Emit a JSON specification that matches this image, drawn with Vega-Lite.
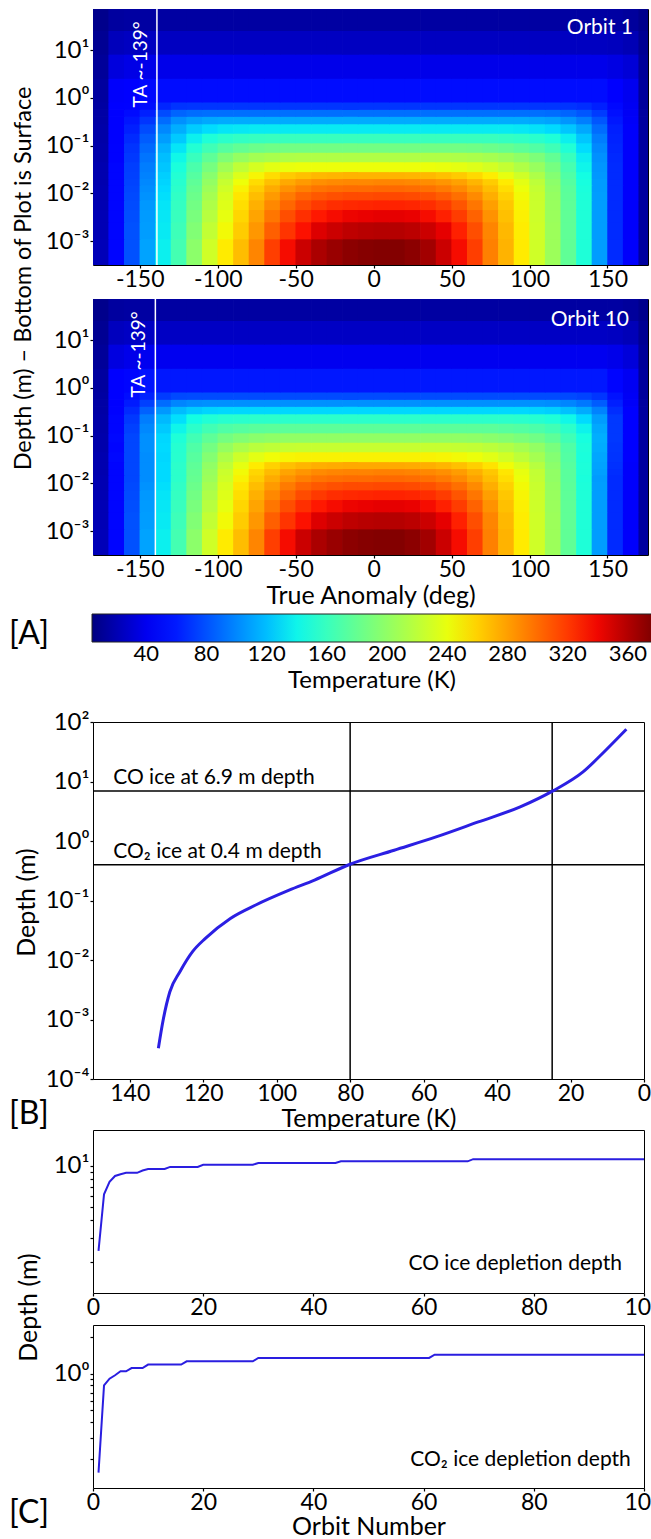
{
"$schema":"https://vega.github.io/schema/vega-lite/v6.json",
"padding":{"left":8,"top":7,"right":5,"bottom":5},
"config":{
 "font":"Lato, Noto Sans, DejaVu Sans",
 "view":{"stroke":"black","strokeWidth":1},
 "axis":{"labelFont":"Lato, Noto Sans, DejaVu Sans","labelFontSize":23,"labelColor":"black","titleFont":"Lato, Noto Sans, DejaVu Sans","titleFontSize":25,"titleFontWeight":"normal","titleColor":"black","domain":false,"tickColor":"black","tickSize":3,"tickWidth":1.2,"labelPadding":0,"titlePadding":0,"grid":false,"labelFlush":false,"labelOverlap":false},
 "axisY":{"labelFontSize":24,"labelPadding":1},
 "title":{"font":"Lato, Noto Sans, DejaVu Sans","fontSize":32,"fontWeight":"normal","color":"black"}
},
"datasets":{
"layers":[{"d":0.00032,"d2":0.0011},{"d":0.0011,"d2":0.0025},{"d":0.0025,"d2":0.0045},{"d":0.0045,"d2":0.0072},{"d":0.0072,"d2":0.0107},{"d":0.0107,"d2":0.0148},{"d":0.0148,"d2":0.02},{"d":0.02,"d2":0.028},{"d":0.028,"d2":0.045},{"d":0.045,"d2":0.071},{"d":0.071,"d2":0.112},{"d":0.112,"d2":0.178},{"d":0.178,"d2":0.28},{"d":0.28,"d2":0.4},{"d":0.4,"d2":0.56},{"d":0.56,"d2":0.8},{"d":0.8,"d2":2.5},{"d":2.5,"d2":8},{"d":8,"d2":25},{"d":25,"d2":72}],
"cells":[
{"a":-175,"d":0.00032,"p":22,"q":22},{"a":-165,"d":0.00032,"p":52,"q":52},{"a":-155,"d":0.00032,"p":80,"q":80},{"a":-145,"d":0.00032,"p":110,"q":110},{"a":-135,"d":0.00032,"p":138,"q":138},{"a":-125,"d":0.00032,"p":165,"q":165},{"a":-115,"d":0.00032,"p":198,"q":198},{"a":-105,"d":0.00032,"p":228,"q":228},{"a":-95,"d":0.00032,"p":250,"q":250},{"a":-85,"d":0.00032,"p":268,"q":268},{"a":-75,"d":0.00032,"p":290,"q":290},{"a":-65,"d":0.00032,"p":318,"q":318},{"a":-55,"d":0.00032,"p":338,"q":338},{"a":-45,"d":0.00032,"p":352,"q":352},{"a":-35,"d":0.00032,"p":362,"q":362},{"a":-25,"d":0.00032,"p":368,"q":368},{"a":-15,"d":0.00032,"p":372,"q":372},{"a":-5,"d":0.00032,"p":374,"q":374},{"a":5,"d":0.00032,"p":375,"q":375},{"a":15,"d":0.00032,"p":375,"q":375},{"a":25,"d":0.00032,"p":372,"q":372},{"a":35,"d":0.00032,"p":365,"q":365},{"a":45,"d":0.00032,"p":352,"q":352},{"a":55,"d":0.00032,"p":338,"q":338},{"a":65,"d":0.00032,"p":318,"q":318},{"a":75,"d":0.00032,"p":292,"q":292},{"a":85,"d":0.00032,"p":272,"q":272},{"a":95,"d":0.00032,"p":250,"q":250},{"a":105,"d":0.00032,"p":228,"q":228},{"a":115,"d":0.00032,"p":205,"q":205},{"a":125,"d":0.00032,"p":178,"q":178},{"a":135,"d":0.00032,"p":148,"q":148},{"a":145,"d":0.00032,"p":108,"q":108},{"a":155,"d":0.00032,"p":66,"q":66},{"a":165,"d":0.00032,"p":44,"q":44},{"a":175,"d":0.00032,"p":14,"q":14},
{"a":-175,"d":0.0011,"p":21,"q":21},{"a":-165,"d":0.0011,"p":52,"q":52},{"a":-155,"d":0.0011,"p":80,"q":80},{"a":-145,"d":0.0011,"p":108,"q":108},{"a":-135,"d":0.0011,"p":136,"q":136},{"a":-125,"d":0.0011,"p":162,"q":162},{"a":-115,"d":0.0011,"p":193,"q":193},{"a":-105,"d":0.0011,"p":222,"q":222},{"a":-95,"d":0.0011,"p":244,"q":244},{"a":-85,"d":0.0011,"p":262,"q":262},{"a":-75,"d":0.0011,"p":283,"q":283},{"a":-65,"d":0.0011,"p":305,"q":305},{"a":-55,"d":0.0011,"p":322,"q":322},{"a":-45,"d":0.0011,"p":336,"q":336},{"a":-35,"d":0.0011,"p":346,"q":346},{"a":-25,"d":0.0011,"p":352,"q":352},{"a":-15,"d":0.0011,"p":356,"q":356},{"a":-5,"d":0.0011,"p":358,"q":358},{"a":5,"d":0.0011,"p":359,"q":359},{"a":15,"d":0.0011,"p":359,"q":359},{"a":25,"d":0.0011,"p":357,"q":357},{"a":35,"d":0.0011,"p":352,"q":352},{"a":45,"d":0.0011,"p":343,"q":343},{"a":55,"d":0.0011,"p":330,"q":330},{"a":65,"d":0.0011,"p":312,"q":312},{"a":75,"d":0.0011,"p":290,"q":290},{"a":85,"d":0.0011,"p":270,"q":270},{"a":95,"d":0.0011,"p":249,"q":249},{"a":105,"d":0.0011,"p":228,"q":228},{"a":115,"d":0.0011,"p":205,"q":205},{"a":125,"d":0.0011,"p":178,"q":178},{"a":135,"d":0.0011,"p":148,"q":148},{"a":145,"d":0.0011,"p":108,"q":108},{"a":155,"d":0.0011,"p":66,"q":66},{"a":165,"d":0.0011,"p":44,"q":44},{"a":175,"d":0.0011,"p":14,"q":14},
{"a":-175,"d":0.0025,"p":21,"q":21},{"a":-165,"d":0.0025,"p":52,"q":52},{"a":-155,"d":0.0025,"p":79,"q":79},{"a":-145,"d":0.0025,"p":107,"q":107},{"a":-135,"d":0.0025,"p":135,"q":135},{"a":-125,"d":0.0025,"p":160,"q":160},{"a":-115,"d":0.0025,"p":189,"q":189},{"a":-105,"d":0.0025,"p":217,"q":217},{"a":-95,"d":0.0025,"p":239,"q":239},{"a":-85,"d":0.0025,"p":258,"q":258},{"a":-75,"d":0.0025,"p":278,"q":278},{"a":-65,"d":0.0025,"p":296,"q":296},{"a":-55,"d":0.0025,"p":312,"q":312},{"a":-45,"d":0.0025,"p":324,"q":324},{"a":-35,"d":0.0025,"p":333,"q":333},{"a":-25,"d":0.0025,"p":338,"q":338},{"a":-15,"d":0.0025,"p":341,"q":341},{"a":-5,"d":0.0025,"p":342,"q":342},{"a":5,"d":0.0025,"p":343,"q":343},{"a":15,"d":0.0025,"p":343,"q":343},{"a":25,"d":0.0025,"p":342,"q":342},{"a":35,"d":0.0025,"p":338,"q":338},{"a":45,"d":0.0025,"p":330,"q":330},{"a":55,"d":0.0025,"p":319,"q":319},{"a":65,"d":0.0025,"p":304,"q":304},{"a":75,"d":0.0025,"p":285,"q":285},{"a":85,"d":0.0025,"p":267,"q":267},{"a":95,"d":0.0025,"p":248,"q":248},{"a":105,"d":0.0025,"p":227,"q":227},{"a":115,"d":0.0025,"p":204,"q":204},{"a":125,"d":0.0025,"p":178,"q":178},{"a":135,"d":0.0025,"p":148,"q":148},{"a":145,"d":0.0025,"p":108,"q":108},{"a":155,"d":0.0025,"p":66,"q":66},{"a":165,"d":0.0025,"p":44,"q":44},{"a":175,"d":0.0025,"p":14,"q":14},
{"a":-175,"d":0.0045,"p":20,"q":20},{"a":-165,"d":0.0045,"p":52,"q":52},{"a":-155,"d":0.0045,"p":78,"q":78},{"a":-145,"d":0.0045,"p":106,"q":106},{"a":-135,"d":0.0045,"p":134,"q":134},{"a":-125,"d":0.0045,"p":158,"q":158},{"a":-115,"d":0.0045,"p":186,"q":186},{"a":-105,"d":0.0045,"p":213,"q":213},{"a":-95,"d":0.0045,"p":235,"q":235},{"a":-85,"d":0.0045,"p":255,"q":255},{"a":-75,"d":0.0045,"p":273,"q":273},{"a":-65,"d":0.0045,"p":289,"q":289},{"a":-55,"d":0.0045,"p":302,"q":302},{"a":-45,"d":0.0045,"p":313,"q":313},{"a":-35,"d":0.0045,"p":320,"q":320},{"a":-25,"d":0.0045,"p":325,"q":325},{"a":-15,"d":0.0045,"p":327,"q":327},{"a":-5,"d":0.0045,"p":328,"q":328},{"a":5,"d":0.0045,"p":329,"q":329},{"a":15,"d":0.0045,"p":329,"q":329},{"a":25,"d":0.0045,"p":328,"q":328},{"a":35,"d":0.0045,"p":325,"q":325},{"a":45,"d":0.0045,"p":319,"q":319},{"a":55,"d":0.0045,"p":309,"q":309},{"a":65,"d":0.0045,"p":296,"q":296},{"a":75,"d":0.0045,"p":280,"q":280},{"a":85,"d":0.0045,"p":264,"q":264},{"a":95,"d":0.0045,"p":246,"q":246},{"a":105,"d":0.0045,"p":226,"q":226},{"a":115,"d":0.0045,"p":203,"q":203},{"a":125,"d":0.0045,"p":177,"q":177},{"a":135,"d":0.0045,"p":148,"q":148},{"a":145,"d":0.0045,"p":108,"q":108},{"a":155,"d":0.0045,"p":66,"q":66},{"a":165,"d":0.0045,"p":44,"q":44},{"a":175,"d":0.0045,"p":14,"q":14},
{"a":-175,"d":0.0072,"p":20,"q":20},{"a":-165,"d":0.0072,"p":52,"q":52},{"a":-155,"d":0.0072,"p":77,"q":77},{"a":-145,"d":0.0072,"p":104,"q":104},{"a":-135,"d":0.0072,"p":132,"q":132},{"a":-125,"d":0.0072,"p":156,"q":156},{"a":-115,"d":0.0072,"p":183,"q":183},{"a":-105,"d":0.0072,"p":209,"q":209},{"a":-95,"d":0.0072,"p":232,"q":232},{"a":-85,"d":0.0072,"p":252,"q":252},{"a":-75,"d":0.0072,"p":268,"q":268},{"a":-65,"d":0.0072,"p":282,"q":282},{"a":-55,"d":0.0072,"p":294,"q":294},{"a":-45,"d":0.0072,"p":303,"q":303},{"a":-35,"d":0.0072,"p":308,"q":308},{"a":-25,"d":0.0072,"p":311,"q":311},{"a":-15,"d":0.0072,"p":313,"q":313},{"a":-5,"d":0.0072,"p":313,"q":313},{"a":5,"d":0.0072,"p":314,"q":314},{"a":15,"d":0.0072,"p":314,"q":314},{"a":25,"d":0.0072,"p":313,"q":313},{"a":35,"d":0.0072,"p":311,"q":311},{"a":45,"d":0.0072,"p":306,"q":306},{"a":55,"d":0.0072,"p":299,"q":299},{"a":65,"d":0.0072,"p":288,"q":288},{"a":75,"d":0.0072,"p":274,"q":274},{"a":85,"d":0.0072,"p":260,"q":260},{"a":95,"d":0.0072,"p":244,"q":244},{"a":105,"d":0.0072,"p":225,"q":225},{"a":115,"d":0.0072,"p":202,"q":202},{"a":125,"d":0.0072,"p":176,"q":176},{"a":135,"d":0.0072,"p":147,"q":147},{"a":145,"d":0.0072,"p":108,"q":108},{"a":155,"d":0.0072,"p":66,"q":66},{"a":165,"d":0.0072,"p":44,"q":44},{"a":175,"d":0.0072,"p":14,"q":14},
{"a":-175,"d":0.0107,"p":20,"q":20},{"a":-165,"d":0.0107,"p":52,"q":52},{"a":-155,"d":0.0107,"p":76,"q":76},{"a":-145,"d":0.0107,"p":102,"q":102},{"a":-135,"d":0.0107,"p":130,"q":130},{"a":-125,"d":0.0107,"p":154,"q":154},{"a":-115,"d":0.0107,"p":180,"q":180},{"a":-105,"d":0.0107,"p":205,"q":205},{"a":-95,"d":0.0107,"p":228,"q":228},{"a":-85,"d":0.0107,"p":247,"q":247},{"a":-75,"d":0.0107,"p":262,"q":262},{"a":-65,"d":0.0107,"p":275,"q":275},{"a":-55,"d":0.0107,"p":285,"q":285},{"a":-45,"d":0.0107,"p":292,"q":292},{"a":-35,"d":0.0107,"p":297,"q":297},{"a":-25,"d":0.0107,"p":299,"q":299},{"a":-15,"d":0.0107,"p":300,"q":300},{"a":-5,"d":0.0107,"p":300,"q":300},{"a":5,"d":0.0107,"p":301,"q":301},{"a":15,"d":0.0107,"p":301,"q":301},{"a":25,"d":0.0107,"p":300,"q":300},{"a":35,"d":0.0107,"p":298,"q":298},{"a":45,"d":0.0107,"p":294,"q":294},{"a":55,"d":0.0107,"p":288,"q":288},{"a":65,"d":0.0107,"p":279,"q":279},{"a":75,"d":0.0107,"p":268,"q":268},{"a":85,"d":0.0107,"p":255,"q":255},{"a":95,"d":0.0107,"p":241,"q":241},{"a":105,"d":0.0107,"p":223,"q":223},{"a":115,"d":0.0107,"p":200,"q":200},{"a":125,"d":0.0107,"p":175,"q":175},{"a":135,"d":0.0107,"p":146,"q":146},{"a":145,"d":0.0107,"p":107,"q":107},{"a":155,"d":0.0107,"p":66,"q":66},{"a":165,"d":0.0107,"p":44,"q":44},{"a":175,"d":0.0107,"p":14,"q":14},
{"a":-175,"d":0.0148,"p":19,"q":19},{"a":-165,"d":0.0148,"p":52,"q":52},{"a":-155,"d":0.0148,"p":75,"q":76},{"a":-145,"d":0.0148,"p":100,"q":102},{"a":-135,"d":0.0148,"p":128,"q":130},{"a":-125,"d":0.0148,"p":152,"q":154},{"a":-115,"d":0.0148,"p":177,"q":179},{"a":-105,"d":0.0148,"p":201,"q":203},{"a":-95,"d":0.0148,"p":224,"q":226},{"a":-85,"d":0.0148,"p":242,"q":244},{"a":-75,"d":0.0148,"p":256,"q":258},{"a":-65,"d":0.0148,"p":267,"q":269},{"a":-55,"d":0.0148,"p":276,"q":278},{"a":-45,"d":0.0148,"p":282,"q":284},{"a":-35,"d":0.0148,"p":286,"q":288},{"a":-25,"d":0.0148,"p":288,"q":290},{"a":-15,"d":0.0148,"p":289,"q":291},{"a":-5,"d":0.0148,"p":289,"q":291},{"a":5,"d":0.0148,"p":290,"q":292},{"a":15,"d":0.0148,"p":290,"q":292},{"a":25,"d":0.0148,"p":289,"q":291},{"a":35,"d":0.0148,"p":287,"q":289},{"a":45,"d":0.0148,"p":284,"q":286},{"a":55,"d":0.0148,"p":279,"q":281},{"a":65,"d":0.0148,"p":271,"q":273},{"a":75,"d":0.0148,"p":262,"q":264},{"a":85,"d":0.0148,"p":250,"q":252},{"a":95,"d":0.0148,"p":237,"q":239},{"a":105,"d":0.0148,"p":220,"q":222},{"a":115,"d":0.0148,"p":198,"q":200},{"a":125,"d":0.0148,"p":173,"q":175},{"a":135,"d":0.0148,"p":145,"q":147},{"a":145,"d":0.0148,"p":107,"q":109},{"a":155,"d":0.0148,"p":66,"q":67},{"a":165,"d":0.0148,"p":44,"q":44},{"a":175,"d":0.0148,"p":14,"q":14},
{"a":-175,"d":0.02,"p":19,"q":19},{"a":-165,"d":0.02,"p":52,"q":52},{"a":-155,"d":0.02,"p":74,"q":76},{"a":-145,"d":0.02,"p":98,"q":102},{"a":-135,"d":0.02,"p":126,"q":130},{"a":-125,"d":0.02,"p":150,"q":154},{"a":-115,"d":0.02,"p":173,"q":177},{"a":-105,"d":0.02,"p":196,"q":200},{"a":-95,"d":0.02,"p":217,"q":221},{"a":-85,"d":0.02,"p":234,"q":238},{"a":-75,"d":0.02,"p":246,"q":250},{"a":-65,"d":0.02,"p":256,"q":260},{"a":-55,"d":0.02,"p":263,"q":267},{"a":-45,"d":0.02,"p":267,"q":271},{"a":-35,"d":0.02,"p":270,"q":274},{"a":-25,"d":0.02,"p":271,"q":275},{"a":-15,"d":0.02,"p":272,"q":276},{"a":-5,"d":0.02,"p":272,"q":276},{"a":5,"d":0.02,"p":272,"q":276},{"a":15,"d":0.02,"p":272,"q":276},{"a":25,"d":0.02,"p":271,"q":275},{"a":35,"d":0.02,"p":270,"q":274},{"a":45,"d":0.02,"p":267,"q":271},{"a":55,"d":0.02,"p":263,"q":267},{"a":65,"d":0.02,"p":257,"q":261},{"a":75,"d":0.02,"p":249,"q":253},{"a":85,"d":0.02,"p":239,"q":243},{"a":95,"d":0.02,"p":228,"q":232},{"a":105,"d":0.02,"p":213,"q":217},{"a":115,"d":0.02,"p":194,"q":198},{"a":125,"d":0.02,"p":170,"q":174},{"a":135,"d":0.02,"p":143,"q":147},{"a":145,"d":0.02,"p":106,"q":110},{"a":155,"d":0.02,"p":66,"q":68},{"a":165,"d":0.02,"p":44,"q":44},{"a":175,"d":0.02,"p":14,"q":14},
{"a":-175,"d":0.028,"p":19,"q":19},{"a":-165,"d":0.028,"p":52,"q":53},{"a":-155,"d":0.028,"p":73,"q":76},{"a":-145,"d":0.028,"p":96,"q":102},{"a":-135,"d":0.028,"p":123,"q":129},{"a":-125,"d":0.028,"p":146,"q":152},{"a":-115,"d":0.028,"p":168,"q":174},{"a":-105,"d":0.028,"p":188,"q":194},{"a":-95,"d":0.028,"p":207,"q":213},{"a":-85,"d":0.028,"p":221,"q":227},{"a":-75,"d":0.028,"p":231,"q":237},{"a":-65,"d":0.028,"p":237,"q":243},{"a":-55,"d":0.028,"p":240,"q":246},{"a":-45,"d":0.028,"p":241,"q":247},{"a":-35,"d":0.028,"p":241,"q":247},{"a":-25,"d":0.028,"p":241,"q":247},{"a":-15,"d":0.028,"p":241,"q":247},{"a":-5,"d":0.028,"p":241,"q":247},{"a":5,"d":0.028,"p":241,"q":247},{"a":15,"d":0.028,"p":241,"q":247},{"a":25,"d":0.028,"p":241,"q":247},{"a":35,"d":0.028,"p":241,"q":247},{"a":45,"d":0.028,"p":240,"q":246},{"a":55,"d":0.028,"p":238,"q":244},{"a":65,"d":0.028,"p":235,"q":241},{"a":75,"d":0.028,"p":230,"q":236},{"a":85,"d":0.028,"p":223,"q":229},{"a":95,"d":0.028,"p":214,"q":220},{"a":105,"d":0.028,"p":203,"q":209},{"a":115,"d":0.028,"p":188,"q":194},{"a":125,"d":0.028,"p":166,"q":172},{"a":135,"d":0.028,"p":140,"q":146},{"a":145,"d":0.028,"p":105,"q":111},{"a":155,"d":0.028,"p":66,"q":69},{"a":165,"d":0.028,"p":44,"q":45},{"a":175,"d":0.028,"p":14,"q":14},
{"a":-175,"d":0.045,"p":18,"q":18},{"a":-165,"d":0.045,"p":51,"q":52},{"a":-155,"d":0.045,"p":71,"q":76},{"a":-145,"d":0.045,"p":93,"q":103},{"a":-135,"d":0.045,"p":120,"q":130},{"a":-125,"d":0.045,"p":141,"q":151},{"a":-115,"d":0.045,"p":160,"q":170},{"a":-105,"d":0.045,"p":177,"q":187},{"a":-95,"d":0.045,"p":192,"q":202},{"a":-85,"d":0.045,"p":202,"q":212},{"a":-75,"d":0.045,"p":208,"q":218},{"a":-65,"d":0.045,"p":211,"q":221},{"a":-55,"d":0.045,"p":213,"q":223},{"a":-45,"d":0.045,"p":214,"q":224},{"a":-35,"d":0.045,"p":214,"q":224},{"a":-25,"d":0.045,"p":214,"q":224},{"a":-15,"d":0.045,"p":214,"q":224},{"a":-5,"d":0.045,"p":214,"q":224},{"a":5,"d":0.045,"p":214,"q":224},{"a":15,"d":0.045,"p":214,"q":224},{"a":25,"d":0.045,"p":214,"q":224},{"a":35,"d":0.045,"p":214,"q":224},{"a":45,"d":0.045,"p":214,"q":224},{"a":55,"d":0.045,"p":213,"q":223},{"a":65,"d":0.045,"p":212,"q":222},{"a":75,"d":0.045,"p":209,"q":219},{"a":85,"d":0.045,"p":205,"q":215},{"a":95,"d":0.045,"p":199,"q":209},{"a":105,"d":0.045,"p":191,"q":201},{"a":115,"d":0.045,"p":179,"q":189},{"a":125,"d":0.045,"p":160,"q":170},{"a":135,"d":0.045,"p":137,"q":147},{"a":145,"d":0.045,"p":103,"q":113},{"a":155,"d":0.045,"p":65,"q":70},{"a":165,"d":0.045,"p":44,"q":45},{"a":175,"d":0.045,"p":14,"q":14},
{"a":-175,"d":0.071,"p":18,"q":18},{"a":-165,"d":0.071,"p":51,"q":53},{"a":-155,"d":0.071,"p":69,"q":76},{"a":-145,"d":0.071,"p":89,"q":103},{"a":-135,"d":0.071,"p":115,"q":129},{"a":-125,"d":0.071,"p":134,"q":148},{"a":-115,"d":0.071,"p":150,"q":164},{"a":-105,"d":0.071,"p":163,"q":177},{"a":-95,"d":0.071,"p":173,"q":187},{"a":-85,"d":0.071,"p":179,"q":193},{"a":-75,"d":0.071,"p":183,"q":197},{"a":-65,"d":0.071,"p":185,"q":199},{"a":-55,"d":0.071,"p":186,"q":200},{"a":-45,"d":0.071,"p":186,"q":200},{"a":-35,"d":0.071,"p":186,"q":200},{"a":-25,"d":0.071,"p":186,"q":200},{"a":-15,"d":0.071,"p":186,"q":200},{"a":-5,"d":0.071,"p":186,"q":200},{"a":5,"d":0.071,"p":186,"q":200},{"a":15,"d":0.071,"p":186,"q":200},{"a":25,"d":0.071,"p":186,"q":200},{"a":35,"d":0.071,"p":186,"q":200},{"a":45,"d":0.071,"p":186,"q":200},{"a":55,"d":0.071,"p":186,"q":200},{"a":65,"d":0.071,"p":185,"q":199},{"a":75,"d":0.071,"p":183,"q":197},{"a":85,"d":0.071,"p":180,"q":194},{"a":95,"d":0.071,"p":176,"q":190},{"a":105,"d":0.071,"p":171,"q":185},{"a":115,"d":0.071,"p":163,"q":177},{"a":125,"d":0.071,"p":149,"q":163},{"a":135,"d":0.071,"p":131,"q":145},{"a":145,"d":0.071,"p":100,"q":114},{"a":155,"d":0.071,"p":64,"q":71},{"a":165,"d":0.071,"p":44,"q":46},{"a":175,"d":0.071,"p":14,"q":14},
{"a":-175,"d":0.112,"p":17,"q":17},{"a":-165,"d":0.112,"p":50,"q":52},{"a":-155,"d":0.112,"p":66,"q":74},{"a":-145,"d":0.112,"p":84,"q":100},{"a":-135,"d":0.112,"p":108,"q":124},{"a":-125,"d":0.112,"p":124,"q":140},{"a":-115,"d":0.112,"p":138,"q":154},{"a":-105,"d":0.112,"p":148,"q":164},{"a":-95,"d":0.112,"p":154,"q":170},{"a":-85,"d":0.112,"p":157,"q":173},{"a":-75,"d":0.112,"p":159,"q":175},{"a":-65,"d":0.112,"p":160,"q":176},{"a":-55,"d":0.112,"p":160,"q":176},{"a":-45,"d":0.112,"p":160,"q":176},{"a":-35,"d":0.112,"p":160,"q":176},{"a":-25,"d":0.112,"p":160,"q":176},{"a":-15,"d":0.112,"p":160,"q":176},{"a":-5,"d":0.112,"p":160,"q":176},{"a":5,"d":0.112,"p":160,"q":176},{"a":15,"d":0.112,"p":160,"q":176},{"a":25,"d":0.112,"p":160,"q":176},{"a":35,"d":0.112,"p":160,"q":176},{"a":45,"d":0.112,"p":160,"q":176},{"a":55,"d":0.112,"p":160,"q":176},{"a":65,"d":0.112,"p":160,"q":176},{"a":75,"d":0.112,"p":160,"q":176},{"a":85,"d":0.112,"p":158,"q":174},{"a":95,"d":0.112,"p":156,"q":172},{"a":105,"d":0.112,"p":153,"q":169},{"a":115,"d":0.112,"p":148,"q":164},{"a":125,"d":0.112,"p":138,"q":154},{"a":135,"d":0.112,"p":123,"q":139},{"a":145,"d":0.112,"p":96,"q":112},{"a":155,"d":0.112,"p":63,"q":71},{"a":165,"d":0.112,"p":44,"q":46},{"a":175,"d":0.112,"p":14,"q":14},
{"a":-175,"d":0.178,"p":17,"q":17},{"a":-165,"d":0.178,"p":50,"q":52},{"a":-155,"d":0.178,"p":62,"q":71},{"a":-145,"d":0.178,"p":78,"q":96},{"a":-135,"d":0.178,"p":100,"q":118},{"a":-125,"d":0.178,"p":114,"q":132},{"a":-115,"d":0.178,"p":125,"q":143},{"a":-105,"d":0.178,"p":131,"q":149},{"a":-95,"d":0.178,"p":134,"q":152},{"a":-85,"d":0.178,"p":135,"q":153},{"a":-75,"d":0.178,"p":136,"q":154},{"a":-65,"d":0.178,"p":136,"q":154},{"a":-55,"d":0.178,"p":136,"q":154},{"a":-45,"d":0.178,"p":136,"q":154},{"a":-35,"d":0.178,"p":136,"q":154},{"a":-25,"d":0.178,"p":136,"q":154},{"a":-15,"d":0.178,"p":136,"q":154},{"a":-5,"d":0.178,"p":136,"q":154},{"a":5,"d":0.178,"p":136,"q":154},{"a":15,"d":0.178,"p":136,"q":154},{"a":25,"d":0.178,"p":136,"q":154},{"a":35,"d":0.178,"p":136,"q":154},{"a":45,"d":0.178,"p":136,"q":154},{"a":55,"d":0.178,"p":136,"q":154},{"a":65,"d":0.178,"p":136,"q":154},{"a":75,"d":0.178,"p":136,"q":154},{"a":85,"d":0.178,"p":136,"q":154},{"a":95,"d":0.178,"p":135,"q":153},{"a":105,"d":0.178,"p":133,"q":151},{"a":115,"d":0.178,"p":130,"q":148},{"a":125,"d":0.178,"p":123,"q":141},{"a":135,"d":0.178,"p":112,"q":130},{"a":145,"d":0.178,"p":90,"q":108},{"a":155,"d":0.178,"p":62,"q":71},{"a":165,"d":0.178,"p":44,"q":46},{"a":175,"d":0.178,"p":14,"q":14},
{"a":-175,"d":0.28,"p":16,"q":16},{"a":-165,"d":0.28,"p":49,"q":51},{"a":-155,"d":0.28,"p":58,"q":66},{"a":-145,"d":0.28,"p":70,"q":86},{"a":-135,"d":0.28,"p":90,"q":106},{"a":-125,"d":0.28,"p":103,"q":119},{"a":-115,"d":0.28,"p":109,"q":125},{"a":-105,"d":0.28,"p":112,"q":128},{"a":-95,"d":0.28,"p":113,"q":129},{"a":-85,"d":0.28,"p":113,"q":129},{"a":-75,"d":0.28,"p":113,"q":129},{"a":-65,"d":0.28,"p":113,"q":129},{"a":-55,"d":0.28,"p":113,"q":129},{"a":-45,"d":0.28,"p":113,"q":129},{"a":-35,"d":0.28,"p":113,"q":129},{"a":-25,"d":0.28,"p":113,"q":129},{"a":-15,"d":0.28,"p":113,"q":129},{"a":-5,"d":0.28,"p":113,"q":129},{"a":5,"d":0.28,"p":113,"q":129},{"a":15,"d":0.28,"p":113,"q":129},{"a":25,"d":0.28,"p":113,"q":129},{"a":35,"d":0.28,"p":113,"q":129},{"a":45,"d":0.28,"p":113,"q":129},{"a":55,"d":0.28,"p":113,"q":129},{"a":65,"d":0.28,"p":113,"q":129},{"a":75,"d":0.28,"p":113,"q":129},{"a":85,"d":0.28,"p":113,"q":129},{"a":95,"d":0.28,"p":113,"q":129},{"a":105,"d":0.28,"p":112,"q":128},{"a":115,"d":0.28,"p":110,"q":126},{"a":125,"d":0.28,"p":105,"q":121},{"a":135,"d":0.28,"p":97,"q":113},{"a":145,"d":0.28,"p":82,"q":98},{"a":155,"d":0.28,"p":59,"q":67},{"a":165,"d":0.28,"p":43,"q":45},{"a":175,"d":0.28,"p":14,"q":14},
{"a":-175,"d":0.4,"p":16,"q":16},{"a":-165,"d":0.4,"p":48,"q":49},{"a":-155,"d":0.4,"p":54,"q":60},{"a":-145,"d":0.4,"p":62,"q":74},{"a":-135,"d":0.4,"p":78,"q":90},{"a":-125,"d":0.4,"p":87,"q":99},{"a":-115,"d":0.4,"p":90,"q":102},{"a":-105,"d":0.4,"p":91,"q":103},{"a":-95,"d":0.4,"p":91,"q":103},{"a":-85,"d":0.4,"p":91,"q":103},{"a":-75,"d":0.4,"p":91,"q":103},{"a":-65,"d":0.4,"p":91,"q":103},{"a":-55,"d":0.4,"p":91,"q":103},{"a":-45,"d":0.4,"p":91,"q":103},{"a":-35,"d":0.4,"p":91,"q":103},{"a":-25,"d":0.4,"p":91,"q":103},{"a":-15,"d":0.4,"p":91,"q":103},{"a":-5,"d":0.4,"p":91,"q":103},{"a":5,"d":0.4,"p":91,"q":103},{"a":15,"d":0.4,"p":91,"q":103},{"a":25,"d":0.4,"p":91,"q":103},{"a":35,"d":0.4,"p":91,"q":103},{"a":45,"d":0.4,"p":91,"q":103},{"a":55,"d":0.4,"p":91,"q":103},{"a":65,"d":0.4,"p":91,"q":103},{"a":75,"d":0.4,"p":91,"q":103},{"a":85,"d":0.4,"p":91,"q":103},{"a":95,"d":0.4,"p":91,"q":103},{"a":105,"d":0.4,"p":91,"q":103},{"a":115,"d":0.4,"p":90,"q":102},{"a":125,"d":0.4,"p":87,"q":99},{"a":135,"d":0.4,"p":82,"q":94},{"a":145,"d":0.4,"p":72,"q":84},{"a":155,"d":0.4,"p":56,"q":62},{"a":165,"d":0.4,"p":42,"q":43},{"a":175,"d":0.4,"p":14,"q":14},
{"a":-175,"d":0.56,"p":15,"q":15},{"a":-165,"d":0.56,"p":46,"q":47},{"a":-155,"d":0.56,"p":51,"q":55},{"a":-145,"d":0.56,"p":55,"q":63},{"a":-135,"d":0.56,"p":64,"q":72},{"a":-125,"d":0.56,"p":69,"q":77},{"a":-115,"d":0.56,"p":70,"q":78},{"a":-105,"d":0.56,"p":70,"q":78},{"a":-95,"d":0.56,"p":70,"q":78},{"a":-85,"d":0.56,"p":70,"q":78},{"a":-75,"d":0.56,"p":70,"q":78},{"a":-65,"d":0.56,"p":70,"q":78},{"a":-55,"d":0.56,"p":70,"q":78},{"a":-45,"d":0.56,"p":70,"q":78},{"a":-35,"d":0.56,"p":70,"q":78},{"a":-25,"d":0.56,"p":70,"q":78},{"a":-15,"d":0.56,"p":70,"q":78},{"a":-5,"d":0.56,"p":70,"q":78},{"a":5,"d":0.56,"p":70,"q":78},{"a":15,"d":0.56,"p":70,"q":78},{"a":25,"d":0.56,"p":70,"q":78},{"a":35,"d":0.56,"p":70,"q":78},{"a":45,"d":0.56,"p":70,"q":78},{"a":55,"d":0.56,"p":70,"q":78},{"a":65,"d":0.56,"p":70,"q":78},{"a":75,"d":0.56,"p":70,"q":78},{"a":85,"d":0.56,"p":70,"q":78},{"a":95,"d":0.56,"p":70,"q":78},{"a":105,"d":0.56,"p":70,"q":78},{"a":115,"d":0.56,"p":70,"q":78},{"a":125,"d":0.56,"p":69,"q":77},{"a":135,"d":0.56,"p":67,"q":75},{"a":145,"d":0.56,"p":62,"q":70},{"a":155,"d":0.56,"p":53,"q":57},{"a":165,"d":0.56,"p":41,"q":42},{"a":175,"d":0.56,"p":13,"q":13},
{"a":-175,"d":0.8,"p":14,"q":14},{"a":-165,"d":0.8,"p":44,"q":45},{"a":-155,"d":0.8,"p":50,"q":52},{"a":-145,"d":0.8,"p":53,"q":57},{"a":-135,"d":0.8,"p":55,"q":59},{"a":-125,"d":0.8,"p":55,"q":59},{"a":-115,"d":0.8,"p":55,"q":59},{"a":-105,"d":0.8,"p":55,"q":59},{"a":-95,"d":0.8,"p":55,"q":59},{"a":-85,"d":0.8,"p":55,"q":59},{"a":-75,"d":0.8,"p":55,"q":59},{"a":-65,"d":0.8,"p":55,"q":59},{"a":-55,"d":0.8,"p":55,"q":59},{"a":-45,"d":0.8,"p":55,"q":59},{"a":-35,"d":0.8,"p":55,"q":59},{"a":-25,"d":0.8,"p":55,"q":59},{"a":-15,"d":0.8,"p":55,"q":59},{"a":-5,"d":0.8,"p":55,"q":59},{"a":5,"d":0.8,"p":55,"q":59},{"a":15,"d":0.8,"p":55,"q":59},{"a":25,"d":0.8,"p":55,"q":59},{"a":35,"d":0.8,"p":55,"q":59},{"a":45,"d":0.8,"p":55,"q":59},{"a":55,"d":0.8,"p":55,"q":59},{"a":65,"d":0.8,"p":55,"q":59},{"a":75,"d":0.8,"p":55,"q":59},{"a":85,"d":0.8,"p":55,"q":59},{"a":95,"d":0.8,"p":55,"q":59},{"a":105,"d":0.8,"p":55,"q":59},{"a":115,"d":0.8,"p":55,"q":59},{"a":125,"d":0.8,"p":55,"q":59},{"a":135,"d":0.8,"p":55,"q":59},{"a":145,"d":0.8,"p":55,"q":59},{"a":155,"d":0.8,"p":50,"q":52},{"a":165,"d":0.8,"p":40,"q":41},{"a":175,"d":0.8,"p":13,"q":13},
{"a":-175,"d":2.5,"p":12,"q":12},{"a":-165,"d":2.5,"p":34,"q":35},{"a":-155,"d":2.5,"p":37,"q":38},{"a":-145,"d":2.5,"p":38,"q":40},{"a":-135,"d":2.5,"p":38,"q":40},{"a":-125,"d":2.5,"p":38,"q":40},{"a":-115,"d":2.5,"p":38,"q":40},{"a":-105,"d":2.5,"p":38,"q":40},{"a":-95,"d":2.5,"p":38,"q":40},{"a":-85,"d":2.5,"p":38,"q":40},{"a":-75,"d":2.5,"p":38,"q":40},{"a":-65,"d":2.5,"p":38,"q":40},{"a":-55,"d":2.5,"p":38,"q":40},{"a":-45,"d":2.5,"p":38,"q":40},{"a":-35,"d":2.5,"p":38,"q":40},{"a":-25,"d":2.5,"p":38,"q":40},{"a":-15,"d":2.5,"p":38,"q":40},{"a":-5,"d":2.5,"p":38,"q":40},{"a":5,"d":2.5,"p":38,"q":40},{"a":15,"d":2.5,"p":38,"q":40},{"a":25,"d":2.5,"p":38,"q":40},{"a":35,"d":2.5,"p":38,"q":40},{"a":45,"d":2.5,"p":38,"q":40},{"a":55,"d":2.5,"p":38,"q":40},{"a":65,"d":2.5,"p":38,"q":40},{"a":75,"d":2.5,"p":38,"q":40},{"a":85,"d":2.5,"p":38,"q":40},{"a":95,"d":2.5,"p":38,"q":40},{"a":105,"d":2.5,"p":38,"q":40},{"a":115,"d":2.5,"p":38,"q":40},{"a":125,"d":2.5,"p":38,"q":40},{"a":135,"d":2.5,"p":38,"q":40},{"a":145,"d":2.5,"p":38,"q":40},{"a":155,"d":2.5,"p":36,"q":38},{"a":165,"d":2.5,"p":32,"q":33},{"a":175,"d":2.5,"p":12,"q":12},
{"a":-175,"d":8,"p":10,"q":10},{"a":-165,"d":8,"p":23,"q":24},{"a":-155,"d":8,"p":25,"q":26},{"a":-145,"d":8,"p":25,"q":26},{"a":-135,"d":8,"p":25,"q":26},{"a":-125,"d":8,"p":25,"q":26},{"a":-115,"d":8,"p":25,"q":26},{"a":-105,"d":8,"p":25,"q":26},{"a":-95,"d":8,"p":25,"q":26},{"a":-85,"d":8,"p":25,"q":26},{"a":-75,"d":8,"p":25,"q":26},{"a":-65,"d":8,"p":25,"q":26},{"a":-55,"d":8,"p":25,"q":26},{"a":-45,"d":8,"p":25,"q":26},{"a":-35,"d":8,"p":25,"q":26},{"a":-25,"d":8,"p":25,"q":26},{"a":-15,"d":8,"p":25,"q":26},{"a":-5,"d":8,"p":25,"q":26},{"a":5,"d":8,"p":25,"q":26},{"a":15,"d":8,"p":25,"q":26},{"a":25,"d":8,"p":25,"q":26},{"a":35,"d":8,"p":25,"q":26},{"a":45,"d":8,"p":25,"q":26},{"a":55,"d":8,"p":25,"q":26},{"a":65,"d":8,"p":25,"q":26},{"a":75,"d":8,"p":25,"q":26},{"a":85,"d":8,"p":25,"q":26},{"a":95,"d":8,"p":25,"q":26},{"a":105,"d":8,"p":25,"q":26},{"a":115,"d":8,"p":25,"q":26},{"a":125,"d":8,"p":25,"q":26},{"a":135,"d":8,"p":25,"q":26},{"a":145,"d":8,"p":25,"q":26},{"a":155,"d":8,"p":24,"q":25},{"a":165,"d":8,"p":21,"q":22},{"a":175,"d":8,"p":10,"q":10},
{"a":-175,"d":25,"p":8,"q":8},{"a":-165,"d":25,"p":14,"q":14},{"a":-155,"d":25,"p":15,"q":15},{"a":-145,"d":25,"p":15,"q":15},{"a":-135,"d":25,"p":15,"q":15},{"a":-125,"d":25,"p":15,"q":15},{"a":-115,"d":25,"p":15,"q":15},{"a":-105,"d":25,"p":15,"q":15},{"a":-95,"d":25,"p":15,"q":15},{"a":-85,"d":25,"p":15,"q":15},{"a":-75,"d":25,"p":15,"q":15},{"a":-65,"d":25,"p":15,"q":15},{"a":-55,"d":25,"p":15,"q":15},{"a":-45,"d":25,"p":15,"q":15},{"a":-35,"d":25,"p":15,"q":15},{"a":-25,"d":25,"p":15,"q":15},{"a":-15,"d":25,"p":15,"q":15},{"a":-5,"d":25,"p":15,"q":15},{"a":5,"d":25,"p":15,"q":15},{"a":15,"d":25,"p":15,"q":15},{"a":25,"d":25,"p":15,"q":15},{"a":35,"d":25,"p":15,"q":15},{"a":45,"d":25,"p":15,"q":15},{"a":55,"d":25,"p":15,"q":15},{"a":65,"d":25,"p":15,"q":15},{"a":75,"d":25,"p":15,"q":15},{"a":85,"d":25,"p":15,"q":15},{"a":95,"d":25,"p":15,"q":15},{"a":105,"d":25,"p":15,"q":15},{"a":115,"d":25,"p":15,"q":15},{"a":125,"d":25,"p":15,"q":15},{"a":135,"d":25,"p":15,"q":15},{"a":145,"d":25,"p":15,"q":15},{"a":155,"d":25,"p":15,"q":15},{"a":165,"d":25,"p":13,"q":13},{"a":175,"d":25,"p":8,"q":8}
]},
"vconcat":[
 {"vconcat":[
  {"width":555,"height":256,
   "layer":[
    {"data":{"name":"cells"},
     "transform":[{"lookup":"d","from":{"data":{"name":"layers"},"key":"d","fields":["d2"]}}],
     "mark":{"type":"rect","clip":true,"binSpacing":0,"x2Offset":-0.7,"y2Offset":-0.8},
     "encoding":{
      "x":{"field":"a","type":"quantitative","bin":{"step":10,"extent":[-180,180]},"scale":{"domain":[-180,176],"nice":false,"zero":false},"axis":{"values":[-150,-100,-50,0,50,100,150],"labelExpr":"(datum.value<0?'-':'')+abs(datum.value)","title":null}},
      "y":{"field":"d","type":"quantitative","scale":{"type":"log","domain":[0.00032,72],"nice":false},"axis":{"values":[0.001,0.01,0.1,1,10],"labelExpr":"datum.value>=10?'10¹':datum.value>=1?'10⁰':datum.value>=0.1?'10⁻¹':datum.value>=0.01?'10⁻²':'10⁻³'","title":"Depth (m) – Bottom of Plot is Surface","titleX":-70,"titleY":269,"titleAngle":270,"titleAlign":"center","titleBaseline":"middle","titleFontSize":23.5}},
      "y2":{"field":"d2"},
      "color":{"field":"p","type":"quantitative","scale":{"type":"linear","domain":[4,44.9,50.5,130.5,143.5,242.1,249.5,335.1,342.5,376],"range":["#000080","#0000ff","#0000ff","#00dbff","#14ffe2","#eeff08","#ffec00","#ff1300","#e80000","#800000"],"interpolate":"rgb","clamp":true},
       "legend":{"type":"gradient","orient":"none","legendX":-1,"legendY":605,"direction":"horizontal","gradientLength":560,"gradientThickness":28,"title":"Temperature (K)","titleOrient":"bottom","titleAnchor":"middle","titleFontSize":24,"titleFontWeight":"normal","titleColor":"black","titlePadding":4,"labelFontSize":22,"labelColor":"black","labelOffset":2,"values":[40,80,120,160,200,240,280,320,360],"gradientStrokeColor":"#222","gradientStrokeWidth":1,"padding":0,"labelOverlap":false}}
     }},
    {"data":{"values":[{"ta":-139}]},"mark":{"type":"rule","color":"white","strokeWidth":1.5},"encoding":{"x":{"field":"ta","type":"quantitative"}}},
    {"data":{"values":[{"ta":-139,"dd":5,"t":"TA ~-139°"}]},"mark":{"type":"text","angle":270,"color":"white","fontSize":19,"align":"center","baseline":"bottom","dy":-6},"encoding":{"x":{"field":"ta","type":"quantitative"},"y":{"field":"dd","type":"quantitative"},"text":{"field":"t"}}},
    {"data":{"values":[{"ta":176,"dd":72,"t":"Orbit 1"}]},"mark":{"type":"text","color":"white","fontSize":21,"align":"right","baseline":"top","dx":-15,"dy":8},"encoding":{"x":{"field":"ta","type":"quantitative"},"y":{"field":"dd","type":"quantitative"},"text":{"field":"t"}}}
   ]},
  {"width":555,"height":256,
   "title":{"text":"[A]","orient":"bottom","anchor":"start","frame":"group","dx":-84,"offset":11},
   "layer":[
    {"data":{"name":"cells"},
     "transform":[{"lookup":"d","from":{"data":{"name":"layers"},"key":"d","fields":["d2"]}}],
     "mark":{"type":"rect","clip":true,"binSpacing":0,"x2Offset":-0.7,"y2Offset":-0.8},
     "encoding":{
      "x":{"field":"a","type":"quantitative","bin":{"step":10,"extent":[-180,180]},"scale":{"domain":[-180,176],"nice":false,"zero":false},"axis":{"values":[-150,-100,-50,0,50,100,150],"labelExpr":"(datum.value<0?'-':'')+abs(datum.value)","title":"True Anomaly (deg)","titlePadding":2}},
      "y":{"field":"d","type":"quantitative","scale":{"type":"log","domain":[0.00032,72],"nice":false},"axis":{"values":[0.001,0.01,0.1,1,10],"labelExpr":"datum.value>=10?'10¹':datum.value>=1?'10⁰':datum.value>=0.1?'10⁻¹':datum.value>=0.01?'10⁻²':'10⁻³'","title":null}},
      "y2":{"field":"d2"},
      "color":{"field":"q","type":"quantitative","scale":{"type":"linear","domain":[4,44.9,50.5,130.5,143.5,242.1,249.5,335.1,342.5,376],"range":["#000080","#0000ff","#0000ff","#00dbff","#14ffe2","#eeff08","#ffec00","#ff1300","#e80000","#800000"],"interpolate":"rgb","clamp":true},
       "legend":{"type":"gradient","orient":"none","legendX":-1,"legendY":605,"direction":"horizontal","gradientLength":560,"gradientThickness":28,"title":"Temperature (K)","titleOrient":"bottom","titleAnchor":"middle","titleFontSize":24,"titleFontWeight":"normal","titleColor":"black","titlePadding":4,"labelFontSize":22,"labelColor":"black","labelOffset":2,"values":[40,80,120,160,200,240,280,320,360],"gradientStrokeColor":"#222","gradientStrokeWidth":1,"padding":0,"labelOverlap":false}}
     }},
    {"data":{"values":[{"ta":-140}]},"mark":{"type":"rule","color":"white","strokeWidth":1.5},"encoding":{"x":{"field":"ta","type":"quantitative"}}},
    {"data":{"values":[{"ta":-140,"dd":5,"t":"TA ~-139°"}]},"mark":{"type":"text","angle":270,"color":"white","fontSize":19,"align":"center","baseline":"bottom","dy":-6},"encoding":{"x":{"field":"ta","type":"quantitative"},"y":{"field":"dd","type":"quantitative"},"text":{"field":"t"}}},
    {"data":{"values":[{"ta":176,"dd":72,"t":"Orbit 10"}]},"mark":{"type":"text","color":"white","fontSize":21,"align":"right","baseline":"top","dx":-19,"dy":10},"encoding":{"x":{"field":"ta","type":"quantitative"},"y":{"field":"dd","type":"quantitative"},"text":{"field":"t"}}}
   ]}
 ],"spacing":34,"bounds":"flush"},
 {"vconcat":[
  {"width":551,"height":357,
   "title":{"text":"[B]","orient":"bottom","anchor":"start","frame":"group","dx":-84,"offset":-32},
   "layer":[
    {"data":{"values":[{"d":6.9},{"d":0.4}]},"mark":{"type":"rule","color":"black","strokeWidth":1.5},
     "encoding":{"y":{"field":"d","type":"quantitative","scale":{"type":"log","domain":[0.0001,100],"nice":false},"axis":{"values":[0.0001,0.001,0.01,0.1,1,10,100],"labelExpr":"datum.value>=100?'10²':datum.value>=10?'10¹':datum.value>=1?'10⁰':datum.value>=0.1?'10⁻¹':datum.value>=0.01?'10⁻²':datum.value>=0.001?'10⁻³':'10⁻⁴'","title":"Depth (m)","titleX":-67,"titleY":180,"titleAngle":270,"titleAlign":"center","titleBaseline":"middle"}}}},
    {"data":{"values":[{"T":80},{"T":25}]},"mark":{"type":"rule","color":"black","strokeWidth":1.5},
     "encoding":{"x":{"field":"T","type":"quantitative","scale":{"domain":[0,150],"reverse":true,"nice":false,"zero":false},"axis":{"values":[0,20,40,60,80,100,120,140],"title":"Temperature (K)","titlePadding":1}}}},
    {"data":{"values":[{"T":132.2,"d":0.00033},{"T":130.9,"d":0.00098},{"T":129.1,"d":0.0029},{"T":126.3,"d":0.0064},{"T":122.9,"d":0.0138},{"T":119.4,"d":0.0231},{"T":112.6,"d":0.05},{"T":105.7,"d":0.084},{"T":96.6,"d":0.149},{"T":89.7,"d":0.22},{"T":80,"d":0.407},{"T":68,"d":0.7},{"T":56.6,"d":1.17},{"T":45.1,"d":2.09},{"T":33.7,"d":3.74},{"T":24.8,"d":6.95},{"T":16.6,"d":14.5},{"T":10.9,"d":31.3},{"T":4.8,"d":75.4}]},
     "mark":{"type":"line","color":"#2b1fe3","strokeWidth":3,"interpolate":"monotone"},
     "encoding":{"x":{"field":"T","type":"quantitative"},"y":{"field":"d","type":"quantitative"}}},
    {"data":{"values":[{"T":144.5,"d":6.9,"t":"CO ice at 6.9 m depth"},{"T":144.5,"d":0.4,"t":"CO₂ ice at 0.4 m depth"}]},
     "mark":{"type":"text","align":"left","baseline":"bottom","dy":-3,"fontSize":21,"color":"black"},
     "encoding":{"x":{"field":"T","type":"quantitative"},"y":{"field":"d","type":"quantitative"},"text":{"field":"t"}}}
   ]},
  {"vconcat":[
   {"width":551,"height":163,
    "layer":[
     {"data":{"values":[{"n":1,"d":2.4},{"n":2,"d":6.2},{"n":3,"d":7.65},{"n":4,"d":8.45},{"n":5,"d":8.7},{"n":6,"d":8.9},{"n":8,"d":8.9},{"n":9,"d":9.25},{"n":10,"d":9.5},{"n":13,"d":9.5},{"n":14,"d":9.84},{"n":19,"d":9.84},{"n":20,"d":10.2},{"n":29,"d":10.2},{"n":30,"d":10.5},{"n":44,"d":10.5},{"n":45,"d":10.8},{"n":68,"d":10.8},{"n":69,"d":11.2},{"n":100,"d":11.2}]},
      "mark":{"type":"line","color":"#2a1ee0","strokeWidth":2},
      "encoding":{"x":{"field":"n","type":"quantitative","scale":{"domain":[0,100],"nice":false},"axis":{"values":[0,20,40,60,80,100],"title":null}},
       "y":{"field":"d","type":"quantitative","scale":{"type":"log","domain":[1.18,18.3],"nice":false},"axis":{"values":[2,3,4,5,6,7,8,9,10],"labelExpr":"datum.value==10?'10¹':''","title":"Depth (m)","titleX":-65,"titleY":177,"titleAngle":270,"titleAlign":"center","titleBaseline":"middle"}}}},
     {"data":{"values":[{"n":96,"d":1.93,"t":"CO ice depletion depth"}]},"mark":{"type":"text","align":"right","baseline":"middle","fontSize":21,"color":"black"},
      "encoding":{"x":{"field":"n","type":"quantitative"},"y":{"field":"d","type":"quantitative"},"text":{"field":"t"}}}
    ]},
   {"width":551,"height":163,
    "title":{"text":"[C]","orient":"bottom","anchor":"start","frame":"group","dx":-84,"offset":-41},
    "layer":[
     {"data":{"values":[{"n":1,"d":0.155},{"n":2,"d":0.8},{"n":3,"d":0.91},{"n":4,"d":0.97},{"n":5,"d":1.045},{"n":6,"d":1.045},{"n":7,"d":1.11},{"n":9,"d":1.11},{"n":10,"d":1.186},{"n":16,"d":1.186},{"n":17,"d":1.26},{"n":29,"d":1.26},{"n":30,"d":1.345},{"n":61,"d":1.345},{"n":62,"d":1.43},{"n":100,"d":1.43}]},
      "mark":{"type":"line","color":"#2a1ee0","strokeWidth":2},
      "encoding":{"x":{"field":"n","type":"quantitative","scale":{"domain":[0,100],"nice":false},"axis":{"values":[0,20,40,60,80,100],"title":"Orbit Number","titlePadding":0}},
       "y":{"field":"d","type":"quantitative","scale":{"type":"log","domain":[0.116,2.5],"nice":false},"axis":{"values":[0.2,0.3,0.4,0.5,0.6,0.7,0.8,0.9,1,2],"labelExpr":"datum.value==1?'10⁰':''","title":null}}}},
     {"data":{"values":[{"n":97.6,"d":0.197,"t":"CO₂ ice depletion depth"}]},"mark":{"type":"text","align":"right","baseline":"middle","fontSize":21,"color":"black"},
      "encoding":{"x":{"field":"n","type":"quantitative"},"y":{"field":"d","type":"quantitative"},"text":{"field":"t"}}}
    ]}
  ],"spacing":32,"bounds":"flush"}
 ],"spacing":51,"bounds":"flush"}
],
"spacing":713,
"bounds":"flush"
}
